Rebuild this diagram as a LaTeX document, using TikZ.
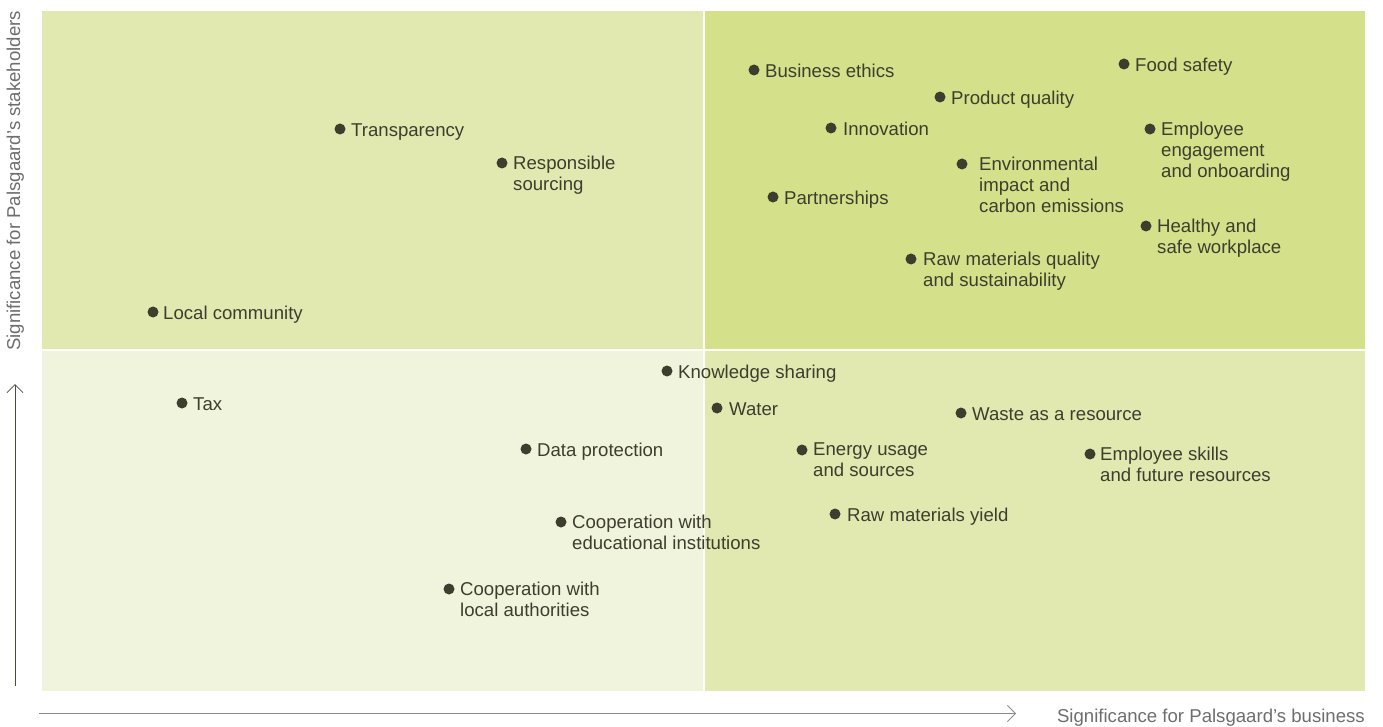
\documentclass[tikz,border=0pt]{standalone}
\usepackage{fontspec}
\setmainfont{Liberation Sans}
\usetikzlibrary{arrows.meta}
\definecolor{qtl}{RGB}{225,232,176}
\definecolor{qtr}{RGB}{212,224,138}
\definecolor{qbl}{RGB}{240,244,220}
\definecolor{qbr}{RGB}{225,232,176}
\definecolor{ink}{RGB}{62,62,46}
\definecolor{axisgray}{RGB}{110,110,110}
\definecolor{axisline}{RGB}{140,140,140}
\tikzset{
  dotmark/.style={circle,fill=ink,draw=none,inner sep=0pt,minimum size=11pt},
  lbl/.style={anchor=north west,inner sep=0pt,align=left,text=ink,
    font=\fontsize{18.6}{21.3}\selectfont,execute at begin node=\strut},
  axislbl/.style={inner sep=0pt,text=axisgray,font=\fontsize{18.6}{21}\selectfont},
}
\newcommand\mitem[5]{%
  \node[dotmark] (d#1) at (#2,#3) {};
  \node[lbl] (t#1) at (#4,#3-7.4) {#5};}
\begin{document}
\begin{tikzpicture}[x=1pt,y=-1pt]
\useasboundingbox (0,0) rectangle (1383,727);
\fill[white] (0,0) rectangle (1383,727);
% quadrants
\fill[qtl] (42,11) rectangle (702.5,348.5);
\fill[qtr] (705,11) rectangle (1365,348.5);
\fill[qbl] (42,351) rectangle (702.5,691);
\fill[qbr] (705,351) rectangle (1365,691);
% axes
\coordinate (ya) at (15,686);
\coordinate (yb) at (15,384);
\coordinate (xa) at (39,713.5);
\coordinate (xb) at (1016,713.5);
\draw[ink!80!gray,line width=1pt,-{Straight Barb[length=8pt,width=16pt,line width=0.8pt]}] (ya) -- (yb);
\draw[axisline,line width=1.8pt,-{Straight Barb[length=8pt,width=16pt,line width=0.8pt]}] (xa) -- (xb);
\node[axislbl,rotate=90,anchor=base west] (ylab) at (20,351) {Significance for Palsgaard’s stakeholders};
\node[axislbl,anchor=base east] (xlab) at (1365,722) {Significance for Palsgaard’s business};
% items
\mitem{be}{754}{70}{765}{Business ethics}
\mitem{fs}{1124}{64}{1135}{Food safety}
\mitem{pq}{940}{97}{951}{Product quality}
\mitem{tr}{340}{129}{351}{Transparency}
\mitem{in}{831}{128}{843}{Innovation}
\mitem{ee}{1150}{129}{1161}{Employee\\engagement\\and onboarding}
\mitem{rs}{502}{163}{513}{Responsible\\sourcing}
\mitem{ei}{962}{164}{979}{Environmental\\impact and\\carbon emissions}
\mitem{pa}{773}{197}{784}{Partnerships}
\mitem{hs}{1146}{226}{1157}{Healthy and\\safe workplace}
\mitem{rq}{911}{259}{923}{Raw materials quality\\and sustainability}
\mitem{lc}{153}{312}{163}{Local community}
\mitem{ks}{667}{371}{678}{Knowledge sharing}
\mitem{tx}{182}{403}{193}{Tax}
\mitem{wa}{717}{408}{729}{Water}
\mitem{wr}{961}{413}{972}{Waste as a resource}
\mitem{dp}{526}{449}{537}{Data protection}
\mitem{eu}{802}{450}{813}{Energy usage\\and sources}
\mitem{es}{1090}{454}{1100}{Employee skills\\and future resources}
\mitem{ry}{835}{514}{847}{Raw materials yield}
\mitem{ce}{561}{522}{572}{Cooperation with\\educational institutions}
\mitem{cl}{449}{589}{460}{Cooperation with\\local authorities}
\end{tikzpicture}
\end{document}
